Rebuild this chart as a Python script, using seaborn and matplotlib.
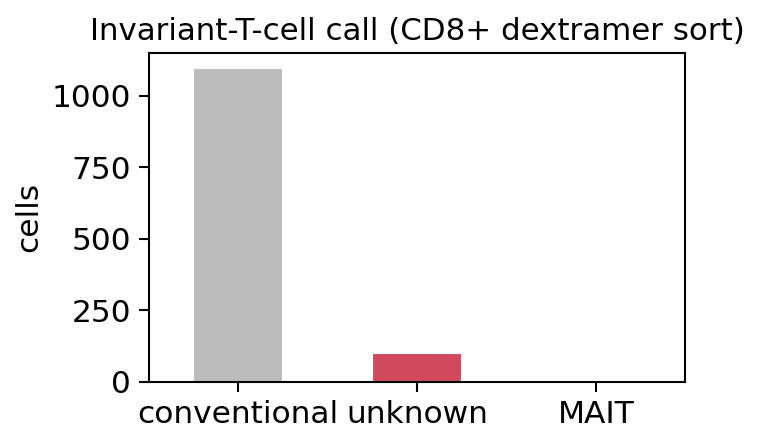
import pandas as pd
import numpy as np
import matplotlib
matplotlib.use("Agg")
import matplotlib.pyplot as plt
import seaborn as sns

categories = ["conventional", "unknown", "MAIT"]
cells = [1095, 101, 1]
colors = ["#bbbbbb", "#d14a5b", "#bbbbbb"]

df = pd.DataFrame({"call": categories, "cells": cells})

sns.set_style("white")
plt.rcParams["font.family"] = ["DejaVu Sans"]
plt.rcParams["text.color"] = "black"
plt.rcParams["axes.labelcolor"] = "black"
plt.rcParams["xtick.color"] = "black"
plt.rcParams["ytick.color"] = "black"

fig = plt.figure(figsize=(763 / 150, 445 / 150), dpi=150)
ax = fig.add_axes([0.195, 0.142, 0.703, 0.739])

sns.barplot(data=df, x="call", y="cells", hue="call", palette=colors,
            width=0.5, legend=False, ax=ax, saturation=1)

ax.set_xlim(-0.5, 2.5)
ax.set_ylim(0, 1149)
ax.set_yticks([0, 250, 500, 750, 1000])
ax.set_title("Invariant-T-cell call (CD8+ dextramer sort)", fontsize=14.8, color="black")
ax.set_xlabel("")
ax.set_ylabel("cells", fontsize=15, color="black")
ax.tick_params(axis="both", labelsize=15, length=5, width=1, direction="out",
               bottom=True, left=True, colors="black")
for s in ax.spines.values():
    s.set_color("black")
    s.set_linewidth(1)

fig.savefig("out.png", dpi=150)
